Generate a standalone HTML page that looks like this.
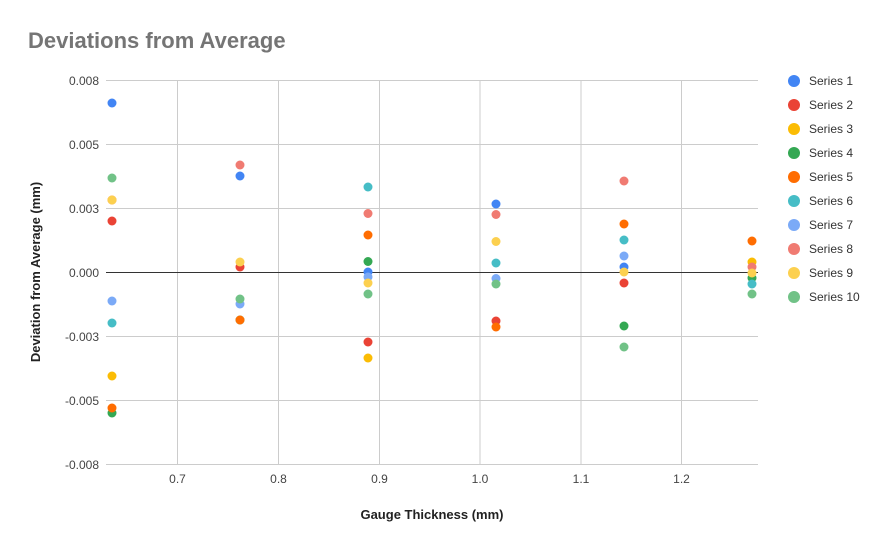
<!DOCTYPE html>
<html><head><meta charset="utf-8"><style>body{margin:0;background:#fff}svg{display:block}text{font-family:"Liberation Sans",Arial,sans-serif}</style></head>
<body>
<svg width="889" height="549" viewBox="0 0 889 549" xmlns="http://www.w3.org/2000/svg">
<rect width="889" height="549" fill="#fff"/>
<text x="28" y="48" font-size="22" font-weight="bold" fill="#757575">Deviations from Average</text>
<g stroke="#cccccc" stroke-width="1">
<line x1="106" y1="80.5" x2="758" y2="80.5"/>
<line x1="106" y1="144.5" x2="758" y2="144.5"/>
<line x1="106" y1="208.5" x2="758" y2="208.5"/>
<line x1="106" y1="336.5" x2="758" y2="336.5"/>
<line x1="106" y1="400.5" x2="758" y2="400.5"/>
<line x1="106" y1="464.5" x2="758" y2="464.5"/>
<line x1="177.5" y1="80" x2="177.5" y2="465"/>
<line x1="278.5" y1="80" x2="278.5" y2="465"/>
<line x1="379.5" y1="80" x2="379.5" y2="465"/>
<line x1="480" y1="80" x2="480" y2="465"/>
<line x1="581" y1="80" x2="581" y2="465"/>
<line x1="681.5" y1="80" x2="681.5" y2="465"/>
</g>
<line x1="106" y1="272.5" x2="758" y2="272.5" stroke="#333" stroke-width="1"/>
<g font-size="12" fill="#444" text-anchor="end">
<text x="99" y="85">0.008</text><text x="99" y="149">0.005</text><text x="99" y="213">0.003</text>
<text x="99" y="277">0.000</text><text x="99" y="341">-0.003</text><text x="99" y="405">-0.005</text><text x="99" y="469">-0.008</text>
</g>
<g font-size="12" fill="#444" text-anchor="middle">
<text x="177.5" y="483">0.7</text><text x="278.5" y="483">0.8</text><text x="379.5" y="483">0.9</text>
<text x="480" y="483">1.0</text><text x="581" y="483">1.1</text><text x="681.5" y="483">1.2</text>
</g>
<text x="432" y="519" font-size="13" font-weight="bold" text-anchor="middle" fill="#222">Gauge Thickness (mm)</text>
<text transform="translate(40,272) rotate(-90)" font-size="13" font-weight="bold" text-anchor="middle" fill="#222">Deviation from Average (mm)</text>
<g>
<!-- x=112 -->
<circle cx="112" cy="103" r="4.5" fill="#4285f4"/>
<circle cx="112" cy="178" r="4.5" fill="#71c287"/>
<circle cx="112" cy="200" r="4.5" fill="#ff6d01"/>
<circle cx="112" cy="200" r="4.5" fill="#fcd04f"/>
<circle cx="112" cy="221" r="4.5" fill="#ea4335"/>
<circle cx="112" cy="301" r="4.5" fill="#7baaf7"/>
<circle cx="112" cy="323" r="4.5" fill="#46bdc6"/>
<circle cx="112" cy="376" r="4.5" fill="#fbbc04"/>
<circle cx="112" cy="413" r="4.5" fill="#34a853"/>
<circle cx="112" cy="408" r="4.5" fill="#ff6d01"/>
<!-- x=240 -->
<circle cx="240" cy="165" r="4.5" fill="#f07b72"/>
<circle cx="240" cy="176" r="4.5" fill="#4285f4"/>
<circle cx="240" cy="267" r="4.5" fill="#ea4335"/>
<circle cx="240" cy="262" r="4.5" fill="#fcd04f"/>
<circle cx="240" cy="320" r="4.5" fill="#34a853"/>
<circle cx="240" cy="320" r="4.5" fill="#ff6d01"/>
<circle cx="240" cy="304" r="4.5" fill="#7baaf7"/>
<circle cx="240" cy="299" r="4.5" fill="#71c287"/>
<!-- x=368 -->
<circle cx="368" cy="187" r="4.5" fill="#46bdc6"/>
<circle cx="368" cy="213.5" r="4.5" fill="#f07b72"/>
<circle cx="368" cy="235" r="4.5" fill="#ff6d01"/>
<circle cx="368" cy="261.5" r="4.5" fill="#34a853"/>
<circle cx="368" cy="272" r="4.5" fill="#4285f4"/>
<circle cx="368" cy="277" r="4.5" fill="#7baaf7"/>
<circle cx="368" cy="283" r="4.5" fill="#fcd04f"/>
<circle cx="368" cy="294" r="4.5" fill="#71c287"/>
<circle cx="368" cy="342" r="4.5" fill="#ea4335"/>
<circle cx="368" cy="358" r="4.5" fill="#fbbc04"/>
<!-- x=496 -->
<circle cx="496" cy="204" r="4.5" fill="#4285f4"/>
<circle cx="496" cy="214.5" r="4.5" fill="#f07b72"/>
<circle cx="496" cy="241.5" r="4.5" fill="#fcd04f"/>
<circle cx="496" cy="263" r="4.5" fill="#46bdc6"/>
<circle cx="496" cy="278.5" r="4.5" fill="#7baaf7"/>
<circle cx="496" cy="284" r="4.5" fill="#71c287"/>
<circle cx="496" cy="321" r="4.5" fill="#ea4335"/>
<circle cx="496" cy="327" r="4.5" fill="#ff6d01"/>
<!-- x=624 -->
<circle cx="624" cy="181" r="4.5" fill="#f07b72"/>
<circle cx="624" cy="224" r="4.5" fill="#ff6d01"/>
<circle cx="624" cy="240" r="4.5" fill="#46bdc6"/>
<circle cx="624" cy="256" r="4.5" fill="#7baaf7"/>
<circle cx="624" cy="267" r="4.5" fill="#4285f4"/>
<circle cx="624" cy="272" r="4.5" fill="#fcd04f"/>
<circle cx="624" cy="283" r="4.5" fill="#ea4335"/>
<circle cx="624" cy="326" r="4.5" fill="#34a853"/>
<circle cx="624" cy="347" r="4.5" fill="#71c287"/>
<!-- x=752 -->
<circle cx="752" cy="241" r="4.5" fill="#ff6d01"/>
<circle cx="752" cy="262" r="4.5" fill="#fbbc04"/>
<circle cx="752" cy="267" r="4.5" fill="#f07b72"/>
<circle cx="752" cy="278" r="4.5" fill="#34a853"/>
<circle cx="752" cy="284" r="4.5" fill="#46bdc6"/>
<circle cx="752" cy="273" r="4.5" fill="#fcd04f"/>
<circle cx="752" cy="294" r="4.5" fill="#71c287"/>
</g>
<g font-size="12" fill="#333">
<circle cx="794" cy="81" r="6" fill="#4285f4"/><text x="809" y="85">Series 1</text>
<circle cx="794" cy="105" r="6" fill="#ea4335"/><text x="809" y="109">Series 2</text>
<circle cx="794" cy="129" r="6" fill="#fbbc04"/><text x="809" y="133">Series 3</text>
<circle cx="794" cy="153" r="6" fill="#34a853"/><text x="809" y="157">Series 4</text>
<circle cx="794" cy="177" r="6" fill="#ff6d01"/><text x="809" y="181">Series 5</text>
<circle cx="794" cy="201" r="6" fill="#46bdc6"/><text x="809" y="205">Series 6</text>
<circle cx="794" cy="225" r="6" fill="#7baaf7"/><text x="809" y="229">Series 7</text>
<circle cx="794" cy="249" r="6" fill="#f07b72"/><text x="809" y="253">Series 8</text>
<circle cx="794" cy="273" r="6" fill="#fcd04f"/><text x="809" y="277">Series 9</text>
<circle cx="794" cy="297" r="6" fill="#71c287"/><text x="809" y="301">Series 10</text>
</g>
</svg>
</body></html>
